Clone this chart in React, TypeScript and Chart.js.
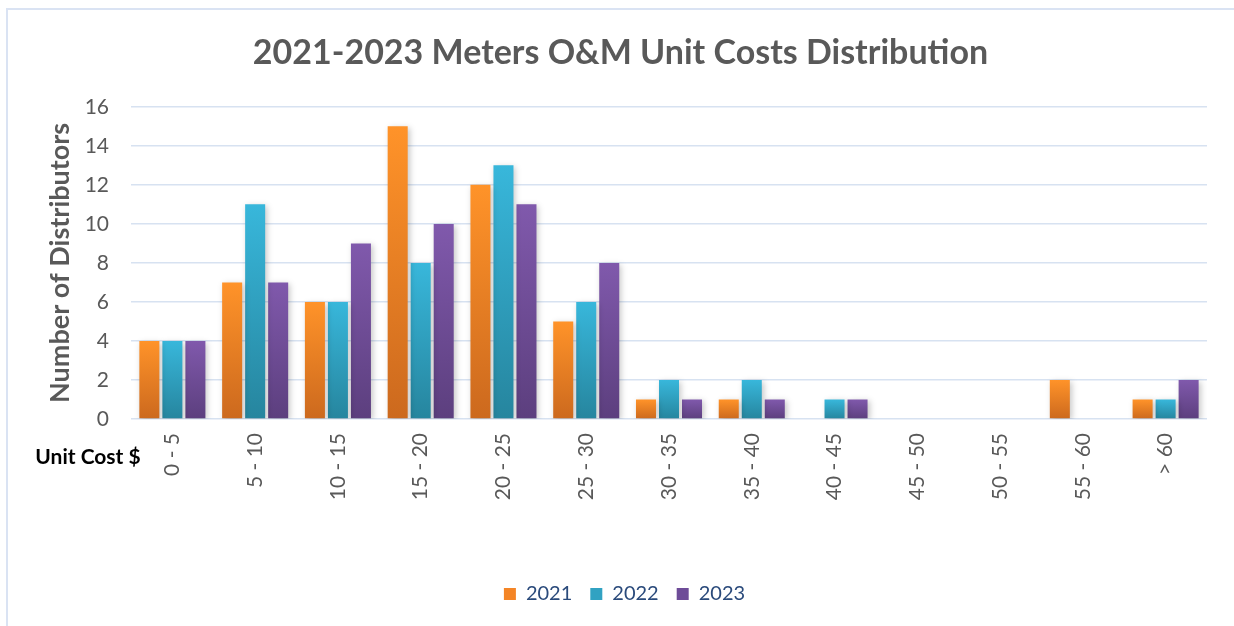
import React, { useEffect, useRef } from "react";
import { Chart, registerables } from "chart.js";

Chart.register(...registerables);

const categories = ["0 - 5", "5 - 10", "10 - 15", "15 - 20", "20 - 25", "25 - 30", "30 - 35", "35 - 40", "40 - 45", "45 - 50", "50 - 55", "55 - 60", "> 60"];
const values2021 = [4, 7, 6, 15, 12, 5, 1, 1, 0, 0, 0, 2, 1];
const values2022 = [4, 11, 6, 8, 13, 6, 2, 2, 1, 0, 0, 0, 1];
const values2023 = [4, 7, 9, 10, 11, 8, 1, 1, 1, 0, 0, 0, 2];
const seriesLabels = ["2021", "2022", "2023"];

const FONT = "Lato, 'Open Sans', sans-serif";
const palettes = [
  { top: "#FF9329", bottom: "#CC691E", solid: "#F48526" },
  { top: "#38B7DB", bottom: "#26859E", solid: "#31A2C2" },
  { top: "#8059AC", bottom: "#5C3F7E", solid: "#6E4C98" },
];

function gradientFill(idx: number) {
  return (ctx: any) => {
    const chart = ctx.chart;
    const p = palettes[idx];
    if (ctx.type !== "data") return p.solid;
    const y = chart.scales && chart.scales.y;
    if (!chart.chartArea || !y) return p.solid;
    const v = ctx.raw as number;
    const top = y.getPixelForValue(v);
    const bottom = y.getPixelForValue(0);
    if (!isFinite(top) || !isFinite(bottom) || bottom - top < 1) return p.solid;
    const g = chart.ctx.createLinearGradient(0, top, 0, bottom);
    g.addColorStop(0, p.top);
    g.addColorStop(1, p.bottom);
    return g;
  };
}

const extrasPlugin = {
  id: "extras",
  afterLayout(chart: any) {
    if (chart.titleBlock) {
      chart.titleBlock.left += 13;
      chart.titleBlock.right += 13;
    }
    if (chart.legend) {
      chart.legend.left += 17;
      chart.legend.right += 17;
    }
  },
  beforeDatasetsDraw(chart: any) {
    const c = chart.ctx;
    c.save();
    c.shadowColor = "rgba(0,0,0,0.22)";
    c.shadowBlur = 6;
    c.shadowOffsetX = 2;
    c.shadowOffsetY = 2;
  },
  afterDatasetsDraw(chart: any) {
    chart.ctx.restore();
  },
  afterDraw(chart: any) {
    const c = chart.ctx;
    c.save();
    c.font = `bold 21px ${FONT}`;
    c.fillStyle = "#000000";
    c.textAlign = "center";
    c.textBaseline = "middle";
    c.fillText("Unit Cost $", 80, 447);
    c.restore();
  },
};

export default function App() {
  const ref = useRef<HTMLCanvasElement | null>(null);
  useEffect(() => {
    if (!ref.current) return;
    const data = [values2021, values2022, values2023];
    const chart = new Chart(ref.current, {
      type: "bar",
      data: {
        labels: categories,
        datasets: data.map((d, i) => ({
          label: seriesLabels[i],
          data: d,
          backgroundColor: gradientFill(i),
          borderWidth: 0,
          categoryPercentage: 0.834,
          barPercentage: 0.87,
        })),
      },
      options: {
        animation: false,
        responsive: false,
        layout: { padding: { left: 0, right: 27, top: 0, bottom: 12 } },
        plugins: {
          title: {
            display: true,
            text: "2021-2023 Meters O&M Unit Costs Distribution",
            color: "#595959",
            font: { family: FONT, size: 34, weight: "bold", lineHeight: 1.2 },
            padding: { top: 23, bottom: 33 },
          },
          legend: {
            position: "bottom",
            labels: {
              color: "#2A4A7B",
              font: { family: FONT, size: 20 },
              boxWidth: 12,
              boxHeight: 12,
              padding: 18,
              generateLabels: (ch: any) =>
                ch.data.datasets.map((ds: any, i: number) => ({
                  text: ds.label,
                  fillStyle: palettes[i].solid,
                  strokeStyle: palettes[i].solid,
                  lineWidth: 0,
                  hidden: false,
                  datasetIndex: i,
                  fontColor: "#2A4A7B",
                })),
            },
          },
          tooltip: { enabled: false },
        },
        scales: {
          x: {
            grid: { display: false, drawTicks: false },
            border: { display: false },
            ticks: {
              color: "#595959",
              font: { family: FONT, size: 21 },
              minRotation: 90,
              maxRotation: 90,
              padding: 14,
              autoSkip: false,
            },
            afterFit: (s: any) => {
              s.height = 147;
            },
          },
          y: {
            min: 0,
            max: 16,
            ticks: {
              stepSize: 2,
              color: "#595959",
              font: { family: FONT, size: 21 },
              padding: 22,
            },
            grid: { color: "#D7E2F1", lineWidth: 1.5, drawTicks: false },
            border: { display: false },
            title: {
              display: true,
              text: "Number of Distributors",
              color: "#595959",
              font: { family: FONT, size: 27, weight: "bold", lineHeight: 1.2 },
              padding: { top: 36, bottom: 0 },
            },
            afterFit: (s: any) => {
              s.width = 123;
            },
          },
        },
      },
      plugins: [extrasPlugin],
    });
    return () => chart.destroy();
  }, []);

  return (
    <div
      style={{
        position: "fixed",
        left: 6,
        top: 8,
        width: 1228,
        height: 618,
        boxSizing: "border-box",
        borderLeft: "2px solid #DAE3F3",
        borderTop: "2px solid #DAE3F3",
        background: "#ffffff",
        overflow: "hidden",
      }}
    >
      <canvas ref={ref} width={1226} height={616} style={{ display: "block", width: 1226, height: 616 }} />
    </div>
  );
}
